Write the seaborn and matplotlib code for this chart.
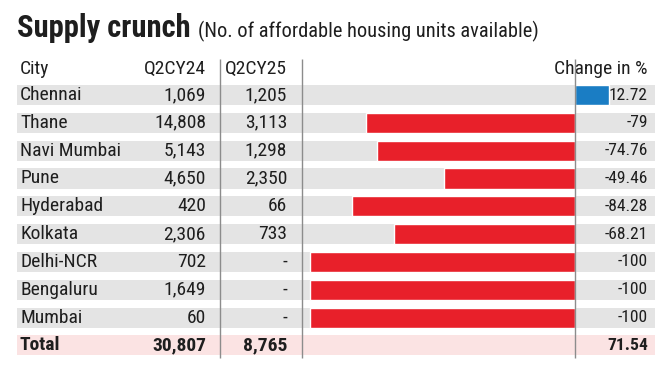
import numpy as np
import pandas as pd
import matplotlib
matplotlib.use('Agg')
import matplotlib.pyplot as plt
from matplotlib import font_manager as fm
import seaborn as sns

cities = ['Chennai', 'Thane', 'Navi Mumbai', 'Pune', 'Hyderabad', 'Kolkata',
          'Delhi-NCR', 'Bengaluru', 'Mumbai']
q2cy24 = [1069, 14808, 5143, 4650, 420, 2306, 702, 1649, 60]
q2cy25 = [1205, 3113, 1298, 2350, 66, 733, None, None, None]
change = [12.72, -79, -74.76, -49.46, -84.28, -68.21, -100, -100, -100]
total_label = 'Total'
total_q2cy24 = 30807
total_q2cy25 = 8765
total_change = 71.54

sns.set_theme(style='white')

# the original uses a condensed face; take one if the box has it
installed = {f.name for f in fm.fontManager.ttflist}
narrow = [n for n in ['Noto Sans Condensed', 'Liberation Sans Narrow', 'Roboto Condensed',
                      'DejaVu Sans Condensed', 'Open Sans Condensed'] if n in installed]
if narrow:
    plt.rcParams['font.family'] = [narrow[0], 'DejaVu Sans']
    FS, FS_C, FS_T, FS_S = 14, 12.6, 22, 14.7
else:
    plt.rcParams['font.family'] = ['Roboto', 'DejaVu Sans']
    FS, FS_C, FS_T, FS_S = 12, 11.5, 20, 13

RED = '#e8202a'
BLUE = '#1a7dc4'
GREY = '#e4e4e4'
PINK = '#fbe3e3'
INK = '#1e1e1e'
LINE = '#8c8c8c'

W, H = 670, 376
fig = plt.figure(figsize=(W / 100, H / 100), dpi=100)

# rows are laid out in pixel space, one unit per row
row_h = 27.83
top = 95 - 1.5 * row_h
bot = 95 + 9.5 * row_h
ax_y = 1 - bot / H
ax_h = (bot - top) / H

rows = cities + [total_label]

#------------------table background + text---------------------#
tab = fig.add_axes([0, ax_y, 1, ax_h])
tab.set_xlim(0, W)
tab.set_ylim(9.5, -1.5)
tab.axis('off')

for i, name in enumerate(rows):
    tab.axhspan(i - 0.36, i + 0.36, xmin=17 / W, xmax=655 / W,
                color=PINK if name == total_label else GREY, lw=0, zorder=0)

def fmt(v):
    return '-' if v is None else f'{v:,}'

col24 = [fmt(v) for v in q2cy24] + [fmt(total_q2cy24)]
col25 = [fmt(v) for v in q2cy25] + [fmt(total_q2cy25)]
colch = [f'{v:g}' for v in change] + [f'{total_change:g}']

hy = -0.93
tab.text(20, hy, 'City', ha='left', va='center', fontsize=FS, color=INK)
tab.text(206, hy, 'Q2CY24', ha='right', va='center', fontsize=FS, color=INK)
tab.text(287, hy, 'Q2CY25', ha='right', va='center', fontsize=FS, color=INK)
tab.text(648, hy, 'Change in %', ha='right', va='center', fontsize=FS, color=INK)

for i, name in enumerate(rows):
    w = 'bold' if name == total_label else 'normal'
    tab.text(20, i, name, ha='left', va='center', fontsize=FS, color=INK, weight=w)
    tab.text(206, i, col24[i], ha='right', va='center', fontsize=FS, color=INK, weight=w)
    tab.text(287, i, col25[i], ha='right', va='center', fontsize=FS, color=INK, weight=w)
    tab.text(648, i, colch[i], ha='right', va='center', fontsize=FS_C, color=INK, weight=w)

tab.vlines([220, 302], -1.28, 9.45, color=LINE, lw=1)

#------------------change bars---------------------#
bars = fig.add_axes([302 / W, ax_y, 353 / W, ax_h])
bars.patch.set_alpha(0)
df = pd.DataFrame({'city': cities, 'change': change})
df['sign'] = np.where(df['change'] > 0, 'up', 'down')
sns.barplot(data=df, x='change', y='city', hue='sign', order=rows,
            palette={'up': BLUE, 'down': RED}, width=0.72, dodge=False,
            legend=False, orient='h', saturation=1, ax=bars)
bars.set_xlim(-103, 30.2)
bars.set_ylim(9.5, -1.5)
bars.vlines(0, -1.28, 9.45, color=LINE, lw=1)
bars.axis('off')

#------------------title---------------------#
t = fig.text(17 / W, 1 - 37 / H, 'Supply crunch', fontsize=FS_T, weight='bold',
             color=INK, va='baseline')
fig.canvas.draw()
x1 = t.get_window_extent().x1
fig.text((x1 + 7) / W, 1 - 37 / H, '(No. of affordable housing units available)',
         fontsize=FS_S, color=INK, va='baseline')

fig.savefig('out.png', dpi=100)
